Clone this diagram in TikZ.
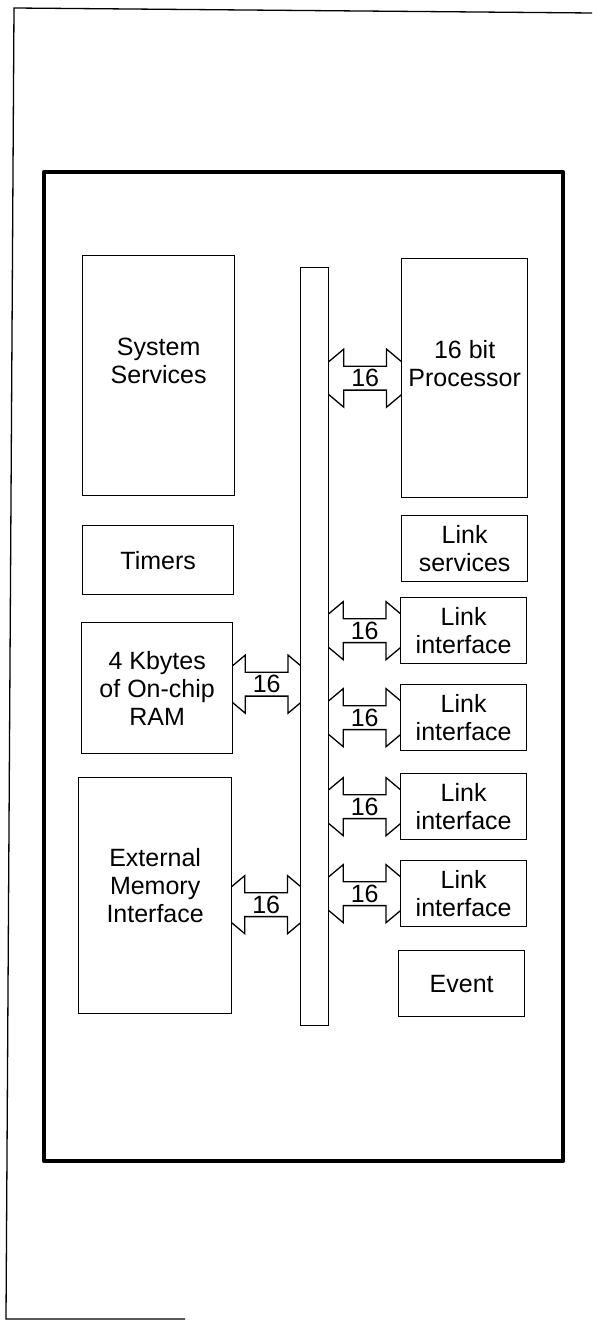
\documentclass[tikz,border=0pt]{standalone}
\usepackage{fontspec}
\setmainfont{Liberation Sans}
\usetikzlibrary{shapes.arrows, positioning, calc, backgrounds}
\tikzstyle{blk} = [rectangle, draw, fill=white, line width=1.3pt, align=center, inner sep=0pt, anchor=north west]
\tikzset{
  chip/.style = {line width=4.5pt, line join=round},
  page/.style = {line width=1.3pt},
  busarrow/.style = {
    double arrow, draw, fill=white, line width=1.3pt,
    minimum height=112pt, minimum width=58pt,
    double arrow head extend=13.5pt, double arrow tip angle=80,
    inner sep=0pt
  }
}

\begin{document}
\begin{tikzpicture}[x=1pt, y=-1pt, every node/.style={font=\fontsize{25}{28}\selectfont}]
  \useasboundingbox (0,0) rectangle (592,1321);

  % Page border and chip outline
  \draw[page] (592,13) -- (14,8) -- (6,1319) -- (185,1319);
  \draw[chip] (44,172) rectangle (563,1161);

  % Left column
  \node[blk, minimum width=152pt, minimum height=240pt, text depth=30pt] (sys) at (82,255) {System\\Services};
  \node[blk, minimum width=151pt, minimum height=69pt] (tim) at (82,525) {Timers};
  \node[blk, minimum width=151pt, minimum height=131pt] (ram) at (81,622) {4 Kbytes\\of On-chip\\RAM};
  \node[blk, minimum width=153pt, minimum height=236pt, text depth=20pt] (ext) at (78,777) {External\\Memory\\Interface};

  % Internal bus
  \node[blk, minimum width=28pt, minimum height=758pt] (bus) at (300,267) {};

  % Right column
  \node[blk, minimum width=126pt, minimum height=239pt, text depth=30pt] (proc) at (401,258) {16 bit\\Processor};
  \node[blk, minimum width=126pt, minimum height=66pt] (lsv) at (401,515) {Link\\services};
  \foreach \ytop [count=\i] in {597,684,773,860}
    \node[blk, minimum width=126pt, minimum height=66pt] (lnk\i) at (400,\ytop) {Link\\interface};
  \node[blk, minimum width=126pt, minimum height=66pt] (evt) at (398,950) {Event};

  % 16 bit paths to the bus
  \begin{scope}[on background layer]
    \node[busarrow] (aproc) at ($(bus.east |- proc.west)!0.5!(proc.west)$) {16};
    \foreach \i in {1,...,4}
      \node[busarrow] (alnk\i) at ($(bus.east |- lnk\i.west)!0.5!(lnk\i.west)$) {16};
    \node[busarrow, yshift=4pt] (aram) at ($(ram.east)!0.5!(bus.west |- ram.east)$) {16};
    \node[busarrow, yshift=-9pt] (aext) at ($(ext.east)!0.5!(bus.west |- ext.east)$) {16};
  \end{scope}
\end{tikzpicture}
\end{document}
